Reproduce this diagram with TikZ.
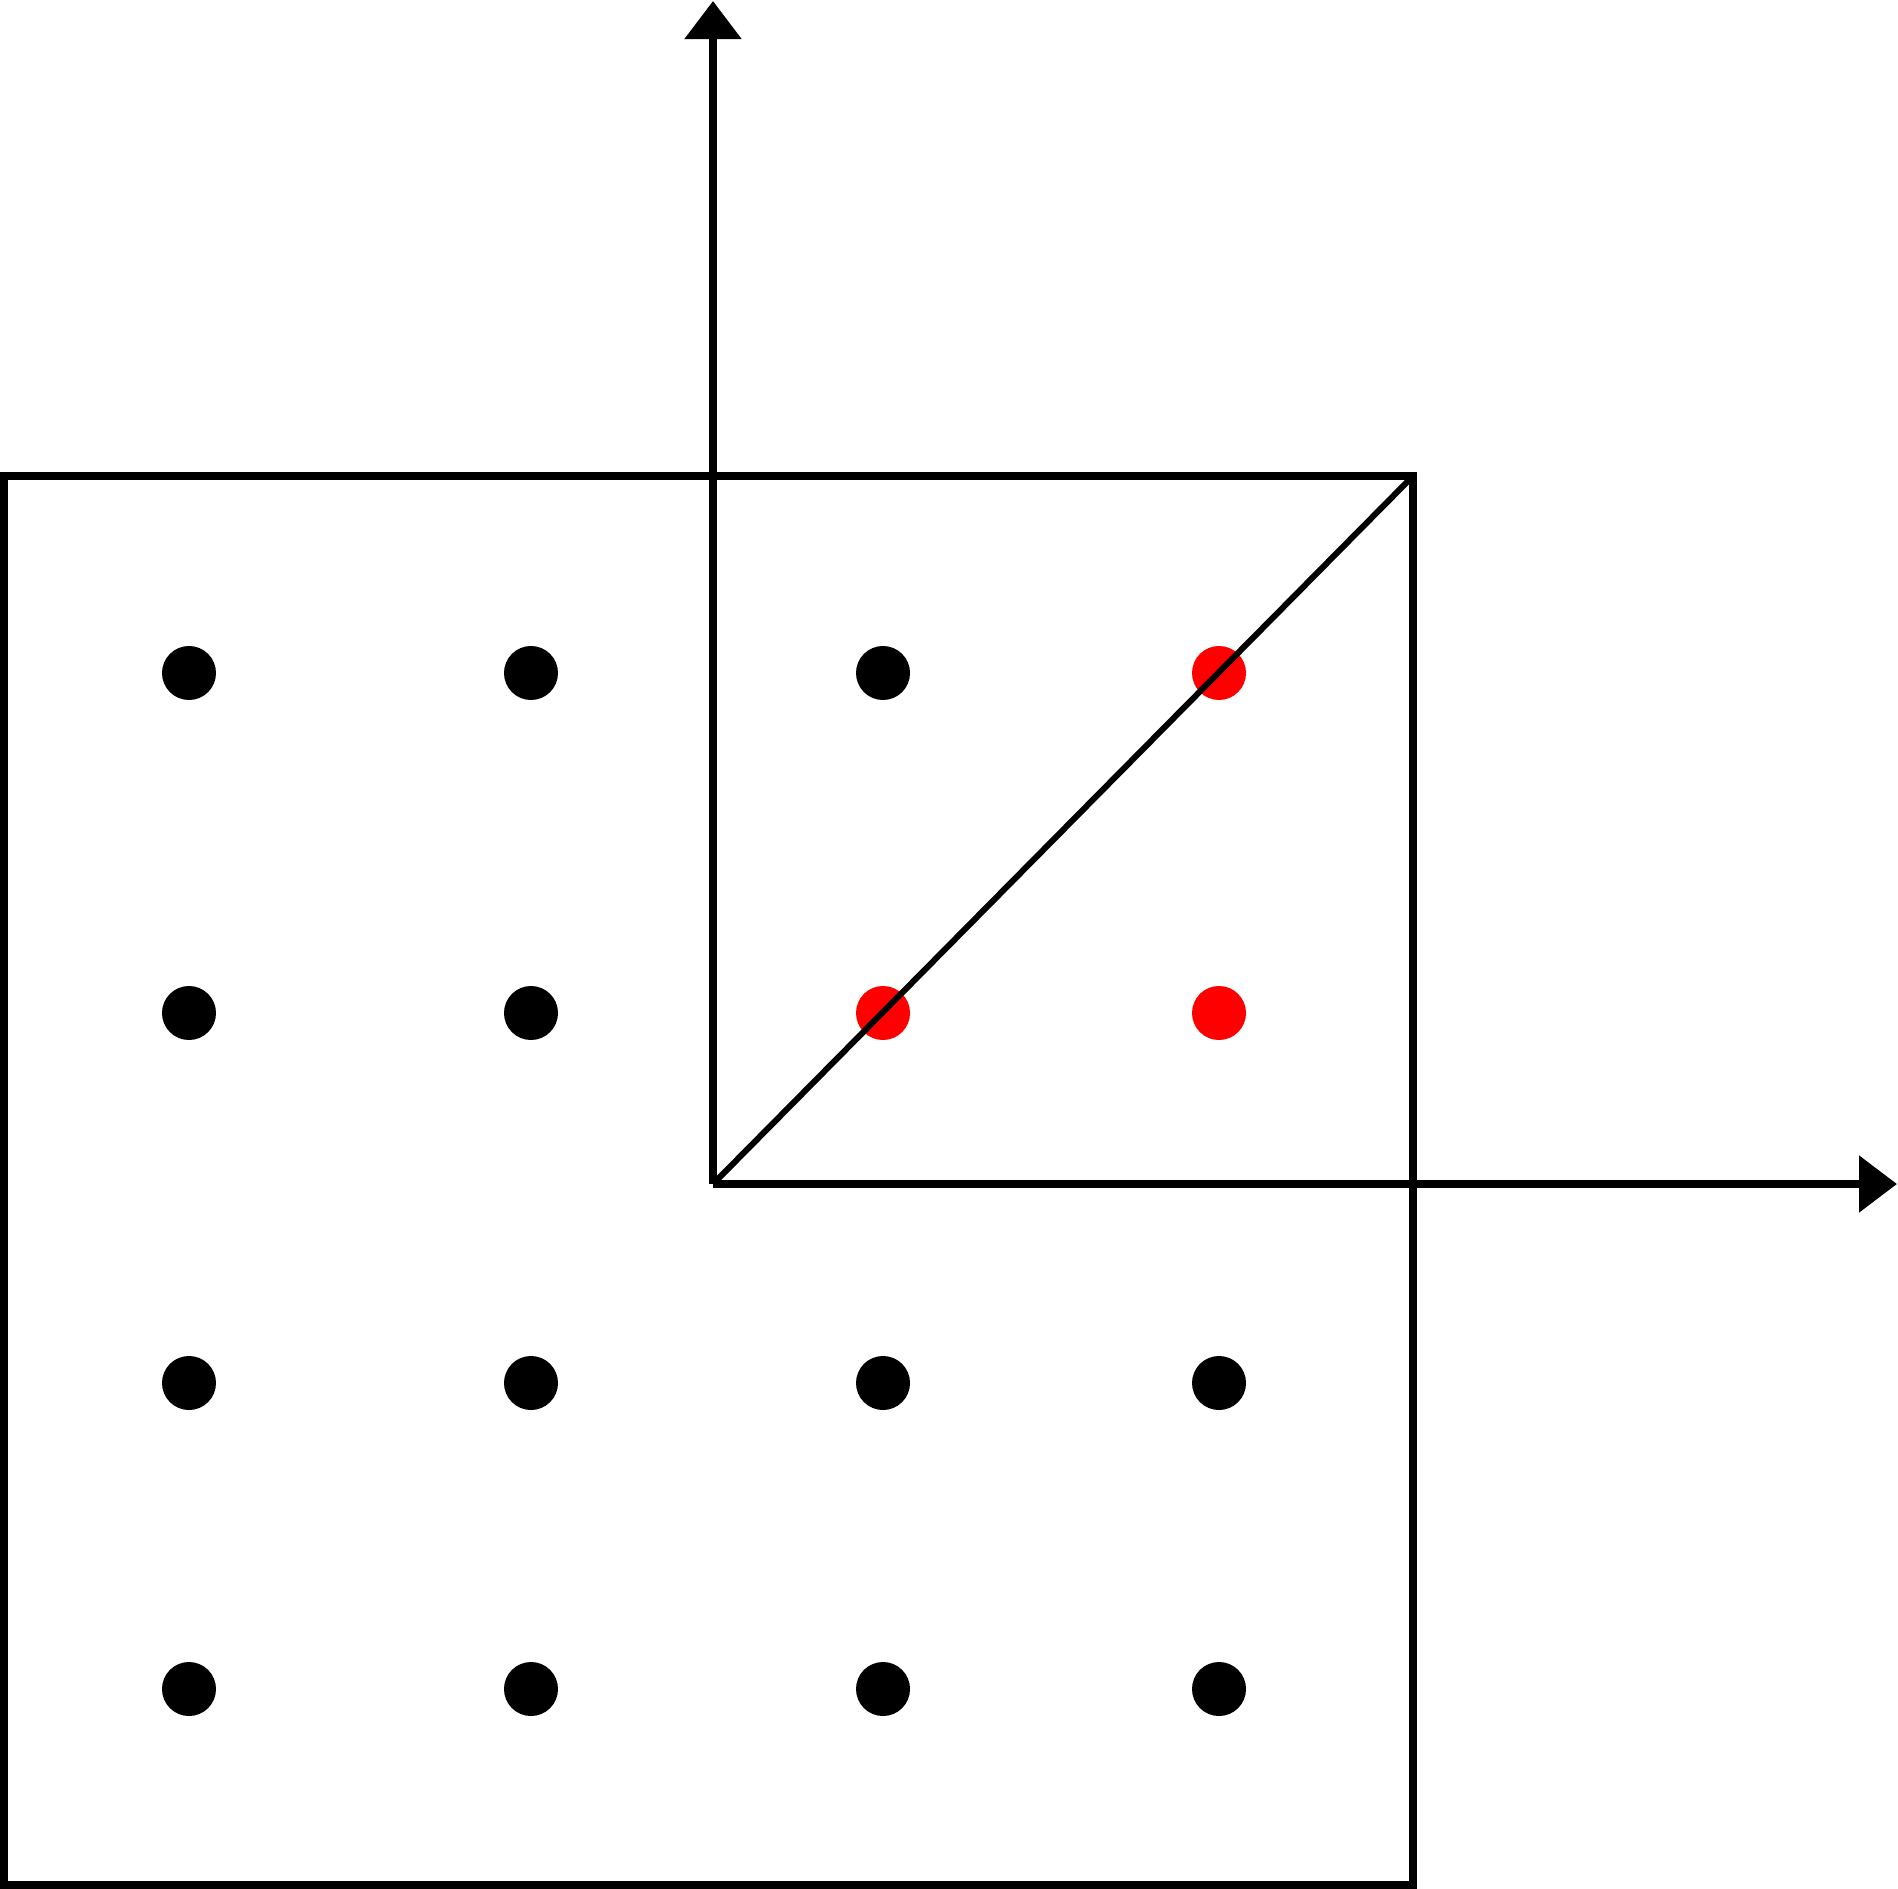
\documentclass[tikz,border=0pt]{standalone}
\usepackage{tikz}
\usetikzlibrary{arrows.meta,positioning}

\begin{document}
\begin{tikzpicture}[
    x=0.01cm, y=-0.01cm,
    dot/.style={circle, fill=black, inner sep=0pt, minimum size=0.54cm},
    reddot/.style={circle, fill=red, inner sep=0pt, minimum size=0.54cm},
    axis/.style={-{Triangle[length=0.38cm, width=0.55cm]}, line width=0.085cm},
    frame/.style={draw, line width=0.08cm},
    diag/.style={line width=0.06cm}
]
\useasboundingbox (0,0) rectangle (1898,1889);

% Frame
\draw[frame] (4,476) rectangle (1413,1885);
\coordinate (corner) at (1413,476);

% Axes
\coordinate (origin) at (713,1184);
\coordinate (xend) at (1897,1184);
\coordinate (yend) at (713,1);
\draw[axis] (origin) -- (xend);
\draw[axis] (origin) -- (yend);

% Points
\node[dot] (p11) at (189,673) {};
\node[dot] (p12) at (531,673) {};
\node[dot] (p13) at (883,673) {};
\node[reddot] (p14) at (1219,673) {};
\node[dot] (p21) at (189,1013) {};
\node[dot] (p22) at (531,1013) {};
\node[reddot] (p23) at (883,1013) {};
\node[reddot] (p24) at (1219,1013) {};
\node[dot] (p31) at (189,1383) {};
\node[dot] (p32) at (531,1383) {};
\node[dot] (p33) at (883,1383) {};
\node[dot] (p34) at (1219,1383) {};
\node[dot] (p41) at (189,1689) {};
\node[dot] (p42) at (531,1689) {};
\node[dot] (p43) at (883,1689) {};
\node[dot] (p44) at (1219,1689) {};

% Diagonal
\draw[diag] (origin) -- (corner);

\end{tikzpicture}
\end{document}
